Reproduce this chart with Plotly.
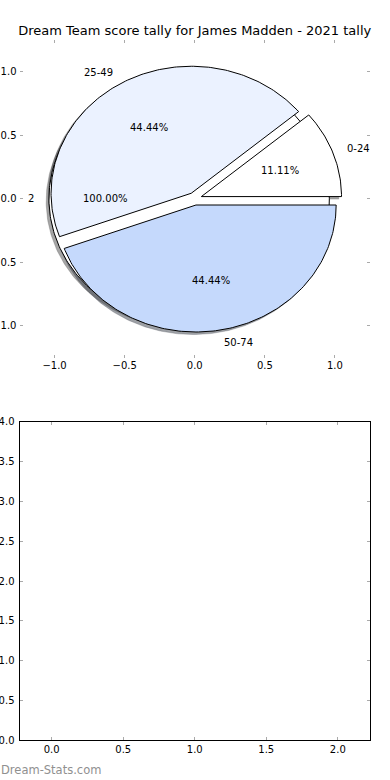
import numpy as np
import plotly.graph_objects as go

# ---------------- data ----------------
title_text = "Dream Team score tally for James Madden - 2021 tally"
bands = ["0-24", "25-49", "50-74"]
counts = [1, 4, 4]
band_colors = ["#ffffff", "#ebf2ff", "#c5d9fc"]
band_explode = [0.05, 0.05, 0.05]

extra_labels = ["2"]
extra_counts = [1]
extra_colors = ["#ffffff"]
extra_explode = [0.04]

pie_ticks = [-1.0, -0.5, 0.0, 0.5, 1.0]
bar_xticks = [0.0, 0.5, 1.0, 1.5, 2.0]
bar_yticks = [0.0, 0.5, 1.0, 1.5, 2.0, 2.5, 3.0, 3.5, 4.0]
watermark = "Dream-Stats.com"

# ---------------- helpers ----------------
FONT = "DejaVu Sans"
SHADOW_OFF = -0.02


def hex_rgb(h):
    h = h.lstrip("#")
    return tuple(int(h[i:i + 2], 16) for i in (0, 2, 4))


def wedges(values, explode):
    total = float(sum(values))
    out = []
    start = 0.0
    for v, e in zip(values, explode):
        frac = v / total
        t1, t2 = start, start + frac * 2 * np.pi
        tm = 0.5 * (t1 + t2)
        cx, cy = e * np.cos(tm), e * np.sin(tm)
        out.append(dict(t1=t1, t2=t2, tm=tm, cx=cx, cy=cy, frac=frac))
        start = t2
    return out


def wedge_path(w, dx=0.0, dy=0.0):
    n = max(int(abs(w["t2"] - w["t1"]) / (2 * np.pi) * 360), 8)
    t = np.linspace(w["t1"], w["t2"], n + 1)
    xs = w["cx"] + np.cos(t)
    ys = w["cy"] + np.sin(t)
    full = abs((w["t2"] - w["t1"]) - 2 * np.pi) < 1e-9
    if not full:
        xs = np.concatenate([[w["cx"]], xs, [w["cx"]]])
        ys = np.concatenate([[w["cy"]], ys, [w["cy"]]])
    return xs + dx, ys + dy


pie_sets = [
    (extra_labels, extra_counts, extra_colors, extra_explode),
    (bands, counts, band_colors, band_explode),
]

fig = go.Figure()
annotations = []

geoms = [wedges(vals, exp) for (_, vals, _, exp) in pie_sets]

# shadows first (drawn behind all wedges)
for (labs, vals, cols, exp), ws in zip(pie_sets, geoms):
    for w, c in zip(ws, cols):
        r, g, b = hex_rgb(c)
        sc = "rgba(%d,%d,%d,0.5)" % (0.3 * r, 0.3 * g, 0.3 * b)
        xs, ys = wedge_path(w, SHADOW_OFF, SHADOW_OFF)
        fig.add_trace(go.Scatter(x=xs, y=ys, mode="lines", fill="toself",
                                 fillcolor=sc, line=dict(color=sc, width=0.5),
                                 hoverinfo="skip", xaxis="x", yaxis="y"))

# wedges
for (labs, vals, cols, exp), ws in zip(pie_sets, geoms):
    for w, c, lab in zip(ws, cols, labs):
        xs, ys = wedge_path(w)
        fig.add_trace(go.Scatter(x=xs, y=ys, mode="lines", fill="toself",
                                 fillcolor=c, line=dict(color="black", width=1),
                                 hoverinfo="skip", xaxis="x", yaxis="y"))
        xt = w["cx"] + 1.1 * np.cos(w["tm"])
        yt = w["cy"] + 1.1 * np.sin(w["tm"])
        annotations.append(dict(x=xt, y=yt, xref="x", yref="y", text=lab,
                                showarrow=False, xanchor="left" if xt > 0 else "right",
                                yanchor="middle", borderpad=0,
                                font=dict(family=FONT, size=10, color="black")))
        xp = w["cx"] + 0.6 * np.cos(w["tm"])
        yp = w["cy"] + 0.6 * np.sin(w["tm"])
        annotations.append(dict(x=xp, y=yp, xref="x", yref="y",
                                text="%.2f%%" % (100 * w["frac"]),
                                showarrow=False, xanchor="center", yanchor="middle",
                                borderpad=0,
                                font=dict(family=FONT, size=10, color="black")))

# empty lower axes
fig.add_trace(go.Scatter(x=[], y=[], xaxis="x2", yaxis="y2", hoverinfo="skip"))

annotations.append(dict(x=0.0, y=(780 - 770) / 780, xref="paper", yref="paper",
                        text=watermark, showarrow=False, xanchor="left",
                        yanchor="middle", borderpad=0,
                        font=dict(family=FONT, size=11.5, color="#909090")))

tick_common = dict(ticks="inside", ticklen=3, tickwidth=1, tickcolor="#aaaaaa",
                   showgrid=False, zeroline=False, mirror="ticks",
                   tickfont=dict(family=FONT, size=10, color="black"),
                   tickformat=".1f")

xdom = [19.5 / 390, 370 / 390]
fig.update_layout(
    width=390, height=780, template="none",
    margin=dict(l=0, r=0, t=0, b=0),
    paper_bgcolor="white", plot_bgcolor="white",
    showlegend=False, hovermode=False,
    title=dict(text=title_text, x=194.75 / 390, xanchor="center",
               y=1 - 30 / 780, yanchor="middle",
               font=dict(family=FONT, size=13, color="black")),
    xaxis=dict(domain=xdom, range=[-1.25, 1.25], anchor="y",
               tickvals=pie_ticks, showline=False, **tick_common),
    yaxis=dict(domain=[1 - 357.5 / 780, 1 - 40 / 780], range=[-1.25, 1.25],
               anchor="x", tickvals=pie_ticks, showline=False,
               ticklabelstandoff=2, **tick_common),
    xaxis2=dict(domain=xdom, range=[-0.225, 2.225], anchor="y2",
                tickvals=bar_xticks, showline=True, linecolor="black",
                linewidth=1, **tick_common),
    yaxis2=dict(domain=[1 - 740.3 / 780, 1 - 421.7 / 780], range=[0, 4],
                anchor="x2", tickvals=bar_yticks, showline=True,
                linecolor="black", linewidth=1, ticklabelstandoff=2,
                **tick_common),
    annotations=annotations,
)

fig.write_html("out.html", config={"displayModeBar": False},
               post_script="document.body.style.margin='0px';document.body.style.overflow='hidden';")
